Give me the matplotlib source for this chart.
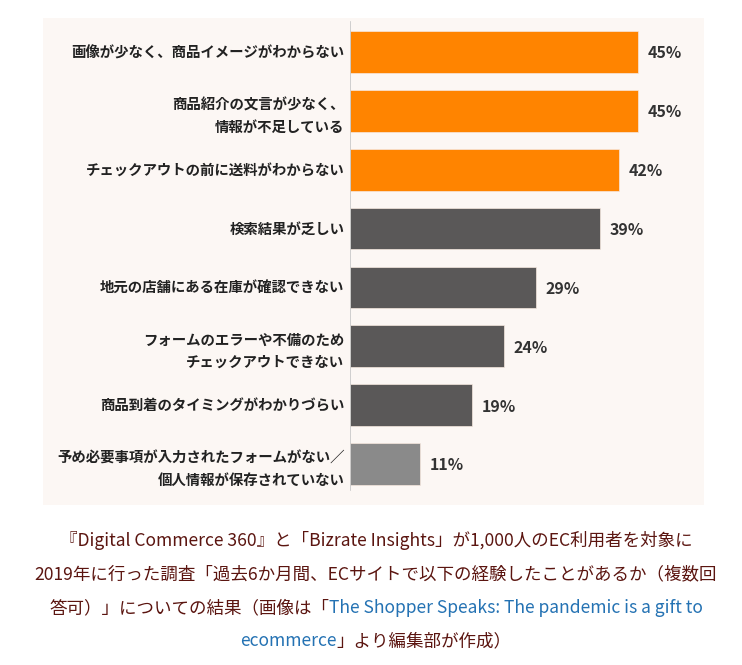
import matplotlib
matplotlib.use("Agg")
import matplotlib.pyplot as plt

plt.rcParams['font.family'] = ['Noto Sans CJK JP', 'DejaVu Sans']

categories = [
    "画像が少なく、商品イメージがわからない",
    "商品紹介の文言が少なく、\n情報が不足している",
    "チェックアウトの前に送料がわからない",
    "検索結果が乏しい",
    "地元の店舗にある在庫が確認できない",
    "フォームのエラーや不備のため\nチェックアウトできない",
    "商品到着のタイミングがわかりづらい",
    "予め必要事項が入力されたフォームがない／\n個人情報が保存されていない",
]
values = [45, 45, 42, 39, 29, 24, 19, 11]
value_labels = ["45%", "45%", "42%", "39%", "29%", "24%", "19%", "11%"]

ORANGE = "#ff8400"
DARK = "#5a5858"
LIGHT = "#8a8a8a"
bar_colors = [ORANGE, ORANGE, ORANGE, DARK, DARK, DARK, DARK, LIGHT]

caption_lines = [
    [("『Digital Commerce 360』と「Bizrate Insights」が1,000人のEC利用者を対象に", "text")],
    [("2019年に行った調査「過去6か月間、ECサイトで以下の経験したことがあるか（複数回", "text")],
    [("答可）」についての結果（画像は「", "text"), ("The Shopper Speaks: The pandemic is a gift to", "link")],
    [("ecommerce", "link"), ("」より編集部が作成）", "text")],
]
TEXT_C = "#5b1510"
LINK_C = "#2472b3"

W, H = 742, 665
fig = plt.figure(figsize=(W / 100, H / 100), dpi=100)
fig.patch.set_facecolor("white")

# panel background
px0, py0, px1, py1 = 43, 18, 704, 505
bg = fig.add_axes([px0 / W, 1 - py1 / H, (px1 - px0) / W, (py1 - py0) / H], zorder=-5)
bg.set_facecolor("#fcf7f4")
bg.set_xticks([])
bg.set_yticks([])
for s in bg.spines.values():
    s.set_visible(False)

ax_left, ax_right = 350, 704
ax = fig.add_axes([ax_left / W, 1 - py1 / H, (ax_right - ax_left) / W, (py1 - py0) / H], zorder=1)
ax.patch.set_alpha(0)

pos = list(range(len(categories)))
ax.barh(pos, values, height=0.71, color=bar_colors, edgecolor="#f6e8df", linewidth=0.5, zorder=2)
ax.set_xlim(0, (ax_right - ax_left) / 6.4)
ax.set_ylim(7 + 41 / 59, -34 / 59)

for s in ax.spines.values():
    s.set_visible(False)
ax.axvline(0, ymin=(505 - 490) / 487, ymax=(505 - 22) / 487, color="#c8c8c8", linewidth=1.2, zorder=3)

ax.set_xticks([])
ax.set_yticks(pos)
ax.set_yticklabels(categories, fontsize=10.4, fontweight="bold", color="#222222",
                   linespacing=1.75, ha="right")
ax.tick_params(axis="y", length=0, pad=4)

for p, v, lab in zip(pos, values, value_labels):
    ax.annotate(lab, xy=(v, p), xytext=(7, -1), textcoords="offset points",
                ha="left", va="center", fontsize=11.5, fontweight="bold", color="#333333")

# caption
fig.canvas.draw()
renderer = fig.canvas.get_renderer()
line_ys = [540, 574, 608, 641]
cx = 376
fs = 12.6
for segs, ly in zip(caption_lines, line_ys):
    texts = []
    for s, kind in segs:
        t = fig.text(0, 1 - ly / H, s, fontsize=fs, color=TEXT_C if kind == "text" else LINK_C,
                     ha="left", va="center")
        texts.append(t)
    widths = [t.get_window_extent(renderer=renderer).width for t in texts]
    total = sum(widths)
    x = cx - total / 2
    for t, w in zip(texts, widths):
        t.set_x(x / W)
        x += w

fig.savefig("out.png", dpi=100, facecolor="white")
